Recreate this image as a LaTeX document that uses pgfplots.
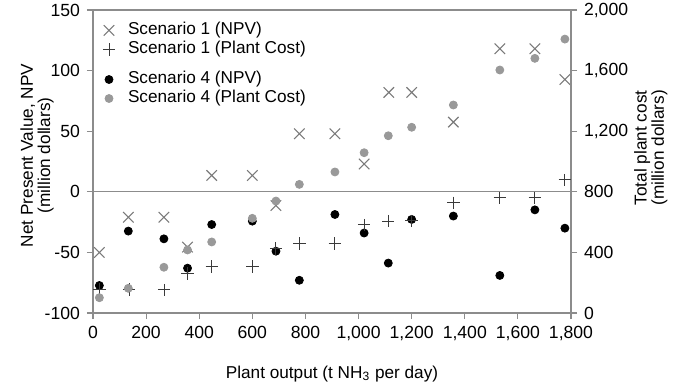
\documentclass[border=0pt]{standalone}
\usepackage{fontspec}
\setmainfont{Liberation Sans}
\usepackage{pgfplots}
\pgfplotsset{compat=1.18}
\definecolor{axgray}{HTML}{8C8C8C}
\definecolor{xgray}{HTML}{7A7A7A}
\definecolor{pgray}{HTML}{3A3A3A}
\definecolor{dgray}{HTML}{999999}

\pgfplotstableread{
x npv
24 -50
133 -21
267 -21
356 -45.6
447 13.5
600 13.5
689 -11.3
777 47.9
911 47.9
1021 23
1114 82
1200 82
1357 57.5
1532 118
1664 118
1777 92.7
}\sonenpv

\pgfplotstableread{
x cost
24 158
136 156
268 152
356 262
447 306
600 306
689 427
777 460
911 460
1021 581
1112 607
1200 609
1357 728
1532 761
1664 761
1777 878
}\sonecost

\pgfplotstableread{
x npv
24 -77.3
133 -32.4
267 -38.8
356 -63
447 -27
600 -24.2
689 -49
777 -73
911 -18.7
1021 -34
1112 -58.8
1200 -22.8
1357 -20
1532 -69
1664 -14.9
1777 -30
}\sfournpv

\pgfplotstableread{
x cost
24 101
133 163
267 302
356 416
447 469
600 625
689 739
777 849
911 931
1021 1058
1112 1170
1200 1226
1357 1373
1532 1604
1664 1681
1777 1808
}\sfourcost

\pgfplotsset{
  common/.style={
    scale only axis, width=239pt, height=151.5pt,
    xmin=0, xmax=1800,
    axis line style={axgray, line width=0.6pt},
    tick style={axgray, line width=0.6pt},
    tick align=outside, major tick length=3pt,
    /pgf/number format/1000 sep={,},
    /pgf/number format/assume math mode=true,
    tick label style={font=\fontsize{8.8}{10}\selectfont},
    label style={font=\fontsize{8.6}{8.6}\selectfont},
    legend style={draw=none, fill=none, inner sep=0pt, outer sep=0pt,
      font=\fontsize{8.6}{10}\selectfont,
      legend cell align=left, row sep=1.2pt, column sep=3.5pt,
      nodes={inner sep=0pt, outer sep=0pt, text height=6.3pt, text depth=2pt}},
    legend image code/.code={\path[draw=none, fill=none] (0pt,-1pt) rectangle (12pt,1pt);
      \begin{scope}[overlay]\draw[##1] plot coordinates {(6pt,0pt)};\end{scope}},
  },
  xmk/.style={only marks, mark=x, mark size=3.7pt, xgray, mark options={line width=0.55pt}},
  pmk/.style={only marks, mark=+, mark size=3.1pt, pgray, mark options={line width=0.5pt}},
  bmk/.style={only marks, mark=*, mark size=2pt, black, mark options={draw=black, fill=black}},
  gmk/.style={only marks, mark=*, mark size=2pt, dgray, mark options={draw=dgray, fill=dgray}},
}

\begin{document}
\begin{tikzpicture}
\useasboundingbox (-46.5pt,-34.5pt) rectangle (296.5pt,156.5pt);
\begin{axis}[common,
  ymin=-100, ymax=150,
  xtick={0,200,...,1800}, ytick={-100,-50,...,150},
  xtick pos=left, ytick pos=left,
  xlabel={Plant output (t NH\textsubscript{3} per day)},
  xlabel style={at={(axis description cs:0.5,-0.2)}, anchor=center},
  ylabel={Net Present Value, NPV\\(million dollars)},
  ylabel style={align=center, at={(axis description cs:-0.117,0.52)}, anchor=center},
  legend style={at={(axis description cs:0.0084,0.96)}, anchor=north west},
]
\addplot[axgray, line width=0.6pt, no marks, forget plot] coordinates {(0,0) (1800,0)};
\addplot[xmk, forget plot] table[x=x,y=npv] {\sonenpv};
\addplot[bmk, forget plot] table[x=x,y=npv] {\sfournpv};
\addlegendimage{xmk}
\addlegendentry{Scenario 1 (NPV)}
\addlegendimage{pmk}
\addlegendentry{Scenario 1 (Plant Cost)}
\end{axis}
\begin{axis}[common,
  ymin=0, ymax=2000,
  ytick={0,400,...,2000},
  axis x line=none, axis y line*=right,
  ylabel={Total plant cost\\(million dollars)},
  ylabel style={align=center, at={(axis description cs:1.167,0.545)}, anchor=center},
  legend style={at={(axis description cs:0.0084,0.798)}, anchor=north west},
]
\addplot[pmk, forget plot] table[x=x,y=cost] {\sonecost};
\addplot[gmk, forget plot] table[x=x,y=cost] {\sfourcost};
\addlegendimage{bmk}
\addlegendentry{Scenario 4 (NPV)}
\addlegendimage{gmk}
\addlegendentry{Scenario 4 (Plant Cost)}
\end{axis}
\end{tikzpicture}
\end{document}
